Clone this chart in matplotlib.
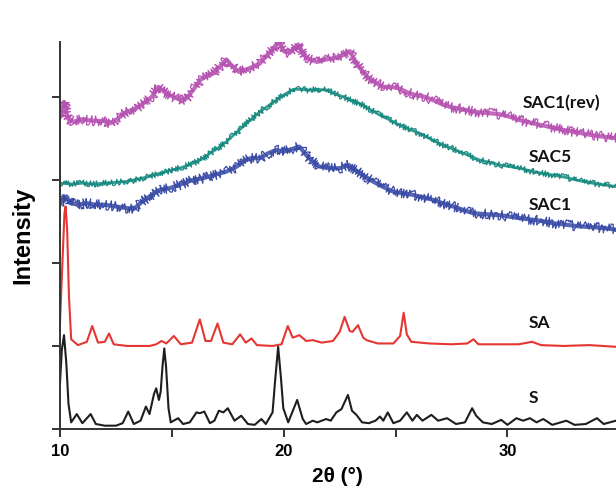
import matplotlib
matplotlib.use("Agg")
import matplotlib.pyplot as plt

# S (black)
s_x = [10.0, 10.08, 10.18, 10.28, 10.38, 10.5, 10.75, 11.0, 11.37, 11.6, 12.0, 12.5, 12.8, 13.05, 13.3,
       13.6, 13.84, 14.0, 14.2, 14.3, 14.42, 14.5, 14.58, 14.66, 14.74, 14.85, 14.95, 15.28, 15.5, 15.8,
       16.1, 16.25, 16.45, 16.7, 16.9, 17.1, 17.3, 17.5, 17.8, 18.1, 18.4, 18.7, 19.0, 19.2, 19.5,
       19.62, 19.75, 19.88, 19.98, 20.2, 20.6, 20.85, 21.0, 21.3, 21.5, 21.9, 22.1, 22.35, 22.58, 22.87,
       23.05, 23.25, 23.5, 23.8, 24.1, 24.3, 24.45, 24.65, 24.9, 25.2, 25.5, 25.75, 25.95, 26.2, 26.6,
       26.9, 27.3, 27.7, 28.1, 28.42, 28.6, 28.9, 29.3, 29.72, 30.0, 30.4, 30.7, 31.0, 31.3, 31.6,
       32.0, 32.63, 33.0, 33.5, 34.0, 34.3, 34.85]
s_y = [0.55, 0.95, 1.13, 0.8, 0.3, 0.08, 0.18, 0.07, 0.18, 0.06, 0.04, 0.04, 0.07, 0.21, 0.06,
       0.1, 0.27, 0.18, 0.42, 0.49, 0.35, 0.45, 0.75, 0.97, 0.75, 0.25, 0.08, 0.13, 0.06, 0.08,
       0.2, 0.19, 0.21, 0.07, 0.1, 0.22, 0.2, 0.25, 0.1, 0.16, 0.06, 0.05, 0.12, 0.06, 0.2,
       0.6, 0.99, 0.6, 0.25, 0.08, 0.35, 0.12, 0.06, 0.1, 0.08, 0.12, 0.1, 0.2, 0.24, 0.41,
       0.22, 0.17, 0.08, 0.07, 0.1, 0.15, 0.1, 0.2, 0.07, 0.1, 0.2, 0.1, 0.17, 0.1, 0.17,
       0.1, 0.13, 0.06, 0.08, 0.25, 0.16, 0.08, 0.06, 0.11, 0.05, 0.13, 0.1, 0.13, 0.08, 0.12,
       0.05, 0.1, 0.05, 0.06, 0.13, 0.06, 0.1]

# SA (red)
sa_x = [10.0, 10.1, 10.2, 10.25, 10.32, 10.4, 10.5, 10.8, 11.2, 11.44, 11.7, 12.0, 12.19, 12.4, 13.0,
        14.0, 14.3, 14.54, 14.75, 15.09, 15.4, 15.9, 16.25, 16.5, 16.75, 17.04, 17.3, 17.7, 18.05,
        18.3, 18.56, 18.8, 19.5, 19.9, 20.18, 20.4, 20.7, 21.0, 21.3, 21.7, 22.2, 22.5, 22.72, 22.95,
        23.07, 23.32, 23.55, 23.7, 24.2, 24.9, 25.2, 25.36, 25.5, 25.7, 26.5, 27.5, 28.2, 28.48, 28.7,
        29.3, 30.5, 31.1, 31.5, 32.5, 33.66, 34.85]
sa_y = [1.28, 1.95, 2.6, 2.68, 2.4, 1.6, 1.08, 1.01, 1.05, 1.24, 1.04, 1.05, 1.15, 1.02, 1.0,
        1.0, 1.02, 1.06, 1.03, 1.12, 1.02, 1.04, 1.32, 1.06, 1.06, 1.27, 1.04, 1.02, 1.14,
        1.04, 1.09, 1.01, 1.0, 1.02, 1.24, 1.1, 1.13, 1.06, 1.07, 1.04, 1.06, 1.17, 1.35, 1.18,
        1.17, 1.25, 1.1, 1.07, 1.03, 1.03, 1.12, 1.4, 1.14, 1.05, 1.03, 1.02, 1.03, 1.08, 1.02,
        1.02, 1.02, 1.05, 1.01, 1.0, 1.01, 0.99]

# SAC1 (blue)
sac1_x = [10.0, 10.15, 10.3, 10.45, 10.8, 11.2, 11.6, 12.0, 12.5, 12.98, 13.3, 13.6, 14.0, 14.46, 14.9,
          15.45, 15.95, 16.4, 16.9, 17.44, 17.9, 18.2, 18.5, 18.93, 19.3, 19.67, 20.0, 20.35, 20.7,
          21.0, 21.3, 21.6, 22.1, 22.5, 22.9, 23.4, 23.99, 24.4, 24.88, 25.3, 25.77, 26.2, 26.67, 27.1,
          27.56, 28.0, 28.45, 28.9, 29.34, 29.8, 30.24, 30.8, 31.4, 32.0, 32.6, 33.2, 33.8, 34.3, 34.85]
sac1_y = [2.72, 2.74, 2.8, 2.72, 2.7, 2.72, 2.7, 2.7, 2.68, 2.66, 2.65, 2.72, 2.8, 2.88, 2.9,
          2.95, 3.0, 3.02, 3.06, 3.1, 3.16, 3.22, 3.26, 3.26, 3.32, 3.36, 3.34, 3.37, 3.4,
          3.3, 3.22, 3.16, 3.14, 3.14, 3.18, 3.08, 2.98, 2.92, 2.86, 2.84, 2.82, 2.79, 2.76, 2.72,
          2.68, 2.64, 2.6, 2.59, 2.58, 2.57, 2.55, 2.53, 2.51, 2.48, 2.46, 2.44, 2.43, 2.42, 2.4]

# SAC5 (teal)
sac5_x = [10.0, 10.5, 11.0, 11.5, 12.0, 12.5, 12.98, 13.5, 14.0, 14.46, 14.9, 15.45, 15.95, 16.35, 16.7,
          17.1, 17.44, 17.8, 18.18, 18.55, 18.93, 19.3, 19.67, 20.05, 20.42, 20.8, 21.16, 21.5, 21.9,
          22.25, 22.65, 23.0, 23.39, 23.85, 24.29, 24.75, 25.18, 25.6, 26.07, 26.5, 26.96, 27.4, 27.86,
          28.3, 28.75, 29.2, 29.64, 30.1, 30.53, 31.0, 31.5, 32.0, 32.6, 33.2, 33.8, 34.3, 34.85]
sac5_y = [2.96, 2.95, 2.96, 2.95, 2.96, 2.97, 2.98, 3.01, 3.04, 3.08, 3.11, 3.15, 3.2, 3.25, 3.32,
          3.39, 3.46, 3.55, 3.64, 3.73, 3.82, 3.89, 3.96, 4.03, 4.09, 4.09, 4.08, 4.09, 4.08,
          4.04, 4.0, 3.96, 3.92, 3.85, 3.78, 3.72, 3.66, 3.61, 3.56, 3.5, 3.44, 3.39, 3.34,
          3.29, 3.24, 3.21, 3.18, 3.16, 3.14, 3.11, 3.08, 3.06, 3.03, 2.99, 2.96, 2.94, 2.92]

# SAC1(rev) (magenta)
rev_x = [10.0, 10.18, 10.35, 10.6, 11.0, 11.5, 12.0, 12.23, 12.6, 12.98, 13.4, 13.72, 14.1, 14.39, 14.7,
         15.06, 15.4, 15.65, 16.0, 16.25, 16.5, 16.84, 17.2, 17.44, 17.73, 18.0, 18.33, 18.6, 18.93,
         19.25, 19.52, 19.75, 20.0, 20.27, 20.64, 20.9, 21.16, 21.5, 21.9, 22.3, 22.63, 22.95, 23.3,
         23.7, 24.05, 24.43, 24.8, 25.18, 25.55, 25.92, 26.3, 26.67, 27.0, 27.4, 27.8, 28.16, 28.5,
         28.9, 29.3, 29.64, 30.1, 30.53, 31.0, 31.5, 32.0, 32.5, 33.0, 33.5, 34.0, 34.85]
rev_y = [3.76, 3.94, 3.74, 3.7, 3.73, 3.71, 3.71, 3.68, 3.74, 3.82, 3.86, 3.92, 4.0, 4.12, 4.05,
         4.0, 3.96, 3.98, 4.1, 4.2, 4.24, 4.28, 4.38, 4.45, 4.36, 4.3, 4.33, 4.36, 4.4,
         4.5, 4.57, 4.67, 4.55, 4.53, 4.63, 4.5, 4.45, 4.42, 4.45, 4.47, 4.5, 4.55, 4.38,
         4.25, 4.18, 4.12, 4.12, 4.1, 4.05, 4.02, 4.0, 3.96, 3.92, 3.88, 3.86, 3.84, 3.82,
         3.81, 3.8, 3.79, 3.76, 3.72, 3.69, 3.66, 3.63, 3.6, 3.58, 3.55, 3.53, 3.5]

labels = ["SAC1(rev)", "SAC5", "SAC1", "SA", "S"]
label_x = [30.67, 30.94, 30.94, 30.94, 30.94]
label_y = [3.93, 3.28, 2.70, 1.28, 0.37]

fig = plt.figure(figsize=(6.16, 4.88), dpi=100)
ax = fig.add_axes([60 / 616, 59 / 488, 556 / 616, 387 / 488])

ax.plot(s_x, s_y, color="#1e1e1e", lw=1.5, solid_joinstyle="round")
ax.plot(sa_x, sa_y, color="#e53632", lw=1.5, solid_joinstyle="round")

# noisy amorphous scans: a solid band plus a jagged sketched line on top
noisy = [(sac1_x, sac1_y, "#3a4ba6", 3.0, 5.0), (sac5_x, sac5_y, "#16897f", 2.0, 3.0),
         (rev_x, rev_y, "#b551b0", 3.0, 5.0)]
for xs, ys, c, band, amp in noisy:
    ax.plot(xs, ys, color=c, lw=band, alpha=0.85, solid_joinstyle="round")
    ln, = ax.plot(xs, ys, color=c, lw=0.9)
    ln.set_sketch_params(scale=amp, length=0.6, randomness=1.5)

for t, lx, ly in zip(labels, label_x, label_y):
    ax.text(lx, ly, t, fontsize=12.5, fontweight="bold", family="Lato", va="center", ha="left", color="#111111")

ax.set_xlim(10, 34.85)
ax.set_ylim(0, 4.66)
ax.set_xticks([10, 15, 20, 25, 30])
ax.set_xticklabels(["10", "", "20", "", "30"])
ax.set_yticks([0, 1, 2, 3, 4])
ax.set_yticklabels([])
ax.tick_params(axis="both", direction="out", length=6, width=1.4, color="#333333")
ax.tick_params(axis="x", labelsize=12, pad=5)
for lab in ax.get_xticklabels():
    lab.set_fontweight("bold")
    lab.set_family("Liberation Sans")

for side in ["top", "right"]:
    ax.spines[side].set_visible(False)
for side in ["left", "bottom"]:
    ax.spines[side].set_linewidth(1.4)
    ax.spines[side].set_color("#333333")

ax.set_xlabel("2θ (°)", fontsize=15, fontweight="bold", family="Liberation Sans")
ax.xaxis.set_label_coords(277 / 556, -47 / 387)
ax.xaxis.label.set_va("center")
ax.set_ylabel("Intensity", fontsize=17, fontweight="bold", family="Liberation Sans")
ax.yaxis.set_label_coords(-37 / 556, 0.5)
ax.yaxis.label.set_va("center")

fig.savefig("out.png", dpi=100)
